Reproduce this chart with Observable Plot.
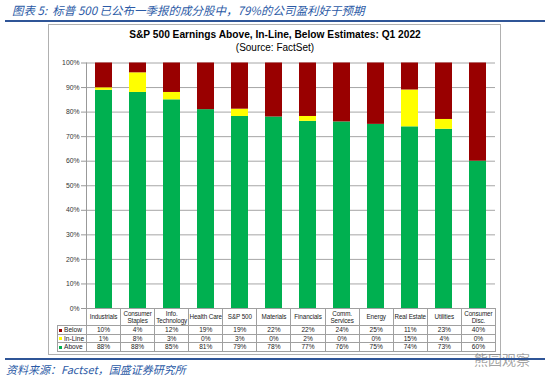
<!DOCTYPE html>
<html>
<head>
<meta charset="utf-8">
<script src="https://cdn.jsdelivr.net/npm/d3@7"></script>
<script src="https://cdn.jsdelivr.net/npm/@observablehq/plot@0.6"></script>
<style>
  html, body { margin: 0; padding: 0; background: #fff; }
  #wrap { position: relative; width: 550px; height: 376px; overflow: hidden; background: #fff; font-family: "Liberation Sans", Arial, sans-serif; }
  .cap { position: absolute; color: #2B5AA6; font-family: "Noto Sans CJK SC", sans-serif; font-style: italic; white-space: nowrap; }
  .blue { position: absolute; background: #2F5597; }
  #frame { position: absolute; left: 48px; top: 24px; width: 453px; height: 331px; border: 1px solid #b0b0b0; box-sizing: border-box; }
  #title { position: absolute; left: 48px; width: 454px; top: 29px; text-align: center; font-weight: bold; font-size: 10.2px; color: #000; }
  #sub { position: absolute; left: 48px; width: 454px; top: 42px; text-align: center; font-size: 10px; color: #000; }
  #chart { position: absolute; left: 48px; top: 55px; }
  #tbl { position: absolute; left: 57px; top: 308px; border-collapse: collapse; table-layout: fixed; font-size: 6.6px; color: #222; }
  #tbl td { border: 1px solid #a0a0a0; text-align: center; padding: 0; line-height: 7.6px; height: 7.6px; white-space: nowrap; overflow: visible; }
  #tbl tr.head td { height: 16px; line-height: 7.4px; font-size: 6.3px; letter-spacing: -0.1px; }
  #tbl td.empty { border-top: none; border-left: none; }
  #tbl td.lab { text-align: left; padding-left: 1px; }
  .sq { display: inline-block; width: 3px; height: 3px; margin-right: 2px; vertical-align: middle; }
  #wm { position: absolute; left: 474px; top: 352px; font-family: "Noto Sans CJK SC", sans-serif; font-size: 14px; line-height: 14px; color: rgba(120,120,120,0.7); }
</style>
</head>
<body>
<div id="wrap">
  <div class="cap" style="left:12px; top:2px; font-size:11.5px;">图表 5:&nbsp; 标普 500 已公布一季报的成分股中，79%的公司盈利好于预期</div>
  <div class="blue" style="left:5px; top:20px; width:540px; height:1.5px;"></div>
  <div id="frame"></div>
  <div id="title">S&amp;P 500 Earnings Above, In-Line, Below Estimates: Q1 2022</div>
  <div id="sub">(Source: FactSet)</div>
  <div id="chart"></div>
  <table id="tbl"></table>
  <div id="wm">熊园观察</div>
  <div class="blue" style="left:5px; top:358px; width:540px; height:1.5px;"></div>
  <div class="cap" style="left:6px; top:361px; font-size:11px;">资料来源：Factset，国盛证券研究所</div>
</div>
<script>
const categories = ["Industrials", "Consumer Staples", "Info. Technology", "Health Care", "S&P 500", "Materials", "Financials", "Comm. Services", "Energy", "Real Estate", "Utilities", "Consumer Disc."];
const headerLabels = ["Industrials", "Consumer<br>Staples", "Info.<br>Technology", "Health Care", "S&amp;P 500", "Materials", "Financials", "Comm.<br>Services", "Energy", "Real Estate", "Utilities", "Consumer<br>Disc."];
const below  = [10, 4, 12, 19, 19, 22, 22, 24, 25, 11, 23, 40];
const inLine = [1, 8, 3, 0, 3, 0, 2, 0, 0, 15, 4, 0];
const above  = [88, 88, 85, 81, 79, 78, 77, 76, 75, 74, 73, 60];
const seriesNames = ["Above", "In-Line", "Below"];
const seriesColors = ["#00B050", "#FFFF00", "#990000"];
const yTicks = [0, 0.1, 0.2, 0.3, 0.4, 0.5, 0.6, 0.7, 0.8, 0.9, 1];

const data = categories.flatMap((c, i) => [
  {cat: c, series: "Above", value: above[i]},
  {cat: c, series: "In-Line", value: inLine[i]},
  {cat: c, series: "Below", value: below[i]}
]);

const chart = Plot.plot({
  width: 454,
  height: 256,
  marginLeft: 38,
  marginRight: 7,
  marginTop: 7.5,
  marginBottom: 3,
  style: {fontFamily: "Liberation Sans, Arial, sans-serif", fontSize: "6.8px", color: "#333", background: "transparent"},
  x: {domain: categories, paddingInner: 0.5, paddingOuter: 0.25, axis: null},
  y: {domain: [0, 1], label: null},
  color: {domain: seriesNames, range: seriesColors},
  marks: [
    Plot.gridY(yTicks, {stroke: "#a6a6a6", strokeOpacity: 1}),
    Plot.barY(data, Plot.stackY({offset: "normalize", order: seriesNames}, {x: "cat", y: "value", fill: "series"})),
    Plot.axisY(yTicks, {tickFormat: d => Math.round(d * 100) + "%", tickSize: 5, tickPadding: 2, stroke: "#999", label: null}),
    Plot.frame({anchor: "left", stroke: "#999"}),
    Plot.frame({anchor: "bottom", stroke: "#999"})
  ]
});
document.getElementById("chart").appendChild(chart);

// table
const tbl = document.getElementById("tbl");
const colW = (454 - 38 - 7) / 12;
let html = '<colgroup><col style="width:29px">' + categories.map(() => `<col style="width:${colW}px">`).join("") + '</colgroup>';
html += '<tr class="head"><td class="empty"></td>' + headerLabels.map(h => `<td>${h}</td>`).join("") + '</tr>';
const rows = [["Below", below, seriesColors[2]], ["In-Line", inLine, seriesColors[1]], ["Above", above, seriesColors[0]]];
for (const [name, vals, col] of rows) {
  html += `<tr><td class="lab"><span class="sq" style="background:${col}"></span>${name}</td>` + vals.map(v => `<td>${v}%</td>`).join("") + '</tr>';
}
tbl.innerHTML = html;
tbl.style.width = (29 + colW * 12) + "px";
</script>
</body>
</html>
